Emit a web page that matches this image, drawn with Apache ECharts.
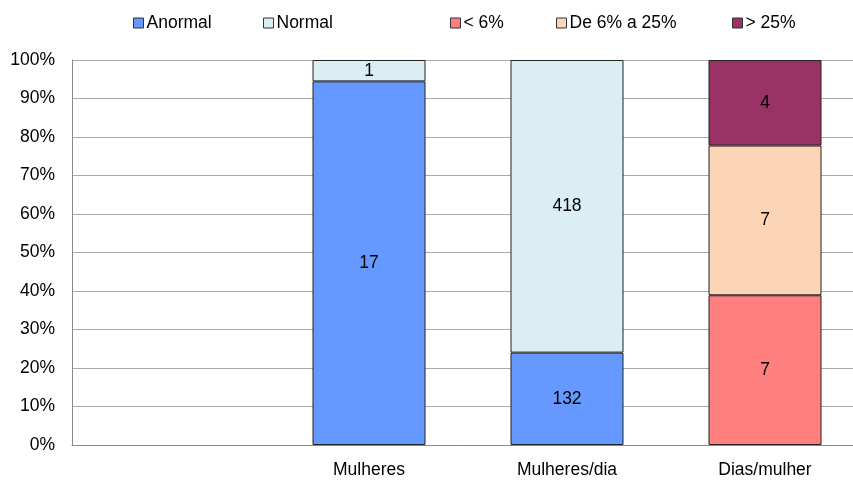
<!DOCTYPE html>
<html>
<head>
<meta charset="utf-8">
<script src="https://cdn.jsdelivr.net/npm/echarts@6/dist/echarts.min.js"></script>
<style>
  html, body { margin: 0; padding: 0; background: #fff; }
  #chart { width: 853px; height: 483px; }
</style>
</head>
<body>
<div id="chart"></div>
<script>
// categories (first slot is empty in the original)
const categories = ["", "Mulheres", "Mulheres/dia", "Dias/mulher"];
const yTicks = ["0%", "10%", "20%", "30%", "40%", "50%", "60%", "70%", "80%", "90%", "100%"];

// raw counts per series
const anormal = [null, 17, 132, null];
const normal = [null, 1, 418, null];
const menos6 = [null, null, null, 7];
const de6a25 = [null, null, null, 7];
const mais25 = [null, null, null, 4];

const seriesNames = ["Anormal", "Normal", "< 6%", "De 6% a 25%", "> 25%"];
const seriesColors = ["#6699FF", "#DAEEF3", "#FF7F7F", "#FBD5B5", "#993366"];
const seriesData = [anormal, normal, menos6, de6a25, mais25];
const legendLeft = [133, 263, 450, 556, 732];

// column totals, used to turn counts into 100% stacks
const totals = categories.map((_, i) =>
  seriesData.reduce((s, arr) => s + (arr[i] || 0), 0));

const font = "'Liberation Sans', Arial, sans-serif";
const fs = 17.5;

const chart = echarts.init(document.getElementById("chart"));
chart.setOption({
  animation: false,
  textStyle: { fontFamily: font },
  legend: seriesNames.map((name, i) => ({
    data: [name],
    left: legendLeft[i],
    top: 14,
    padding: 0,
    itemWidth: 10,
    itemHeight: 10,
    icon: "rect",
    itemStyle: { borderColor: "#333", borderWidth: 1 },
    textStyle: { fontSize: fs, color: "#000", fontFamily: font, padding: [0, 0, 0, -2] },
    selectedMode: false
  })),
  grid: {
    left: 72, width: 792, top: 60, bottom: 38,
    containLabel: false, outerBoundsMode: "none"
  },
  xAxis: {
    type: "category",
    data: categories,
    axisLine: { lineStyle: { color: "#888" } },
    axisTick: { show: false },
    axisLabel: { fontSize: fs, color: "#000", margin: 16 }
  },
  yAxis: {
    type: "value",
    min: 0,
    max: 100,
    interval: 10,
    axisLine: { show: true, lineStyle: { color: "#888" } },
    axisTick: { show: false },
    splitLine: { lineStyle: { color: "#aaa" } },
    axisLabel: {
      fontSize: fs, color: "#000", margin: 17,
      formatter: (v) => yTicks[Math.round(v / 10)]
    }
  },
  series: seriesNames.map((name, k) => ({
    name: name,
    type: "bar",
    stack: "total",
    barWidth: 113,
    itemStyle: { color: seriesColors[k], borderColor: "#222", borderWidth: 1 },
    label: {
      show: true,
      position: "inside",
      color: "#000",
      fontSize: fs,
      formatter: (p) => seriesData[k][p.dataIndex]
    },
    data: seriesData[k].map((v, i) => v == null ? null : v / totals[i] * 100)
  }))
});
</script>
</body>
</html>
